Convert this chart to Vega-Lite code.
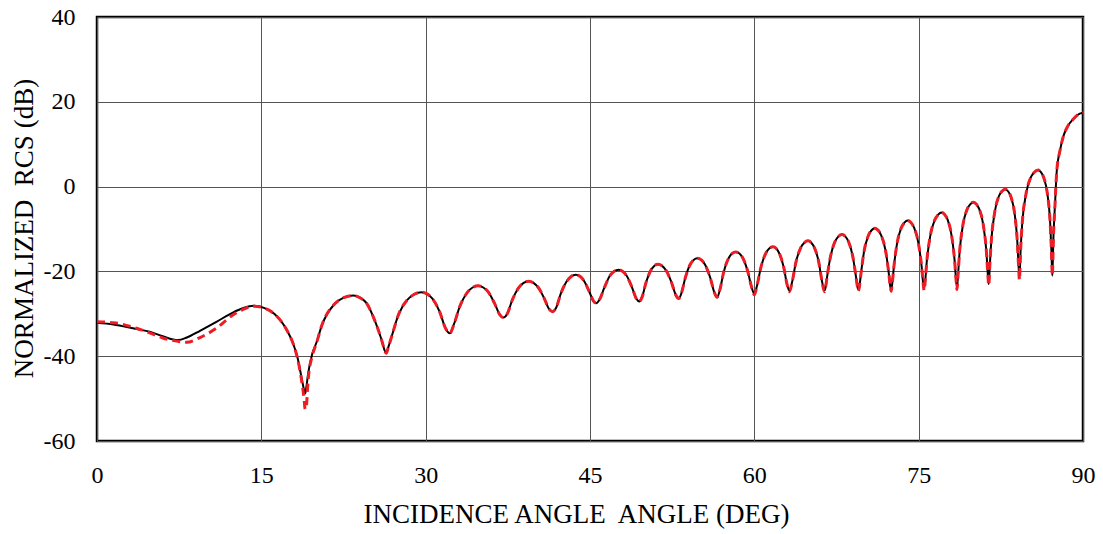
{
  "$schema": "https://vega.github.io/schema/vega-lite/v6.json",
  "width": 986,
  "height": 424,
  "autosize": {"type": "none"},
  "padding": {"left": 97, "top": 17, "right": 20, "bottom": 93},
  "background": "white",
  "config": {
    "view": {"stroke": "black", "strokeWidth": 2.5},
    "font": "Liberation Serif",
    "style": {
      "guide-label": {"font": "Liberation Serif", "fontSize": 24, "fill": "black"},
      "guide-title": {"font": "Liberation Serif", "fill": "black"}
    },
    "axis": {
      "labelFont": "Liberation Serif",
      "titleFont": "Liberation Serif",
      "labelFontSize": 24,
      "titleFontSize": 27,
      "titleFontWeight": "normal",
      "labelColor": "black",
      "titleColor": "black",
      "grid": true,
      "gridColor": "#555555",
      "gridWidth": 1,
      "gridOpacity": 1,
      "domain": false,
      "ticks": false,
      "tickSize": 0
    }
  },
  "data": {
    "values": [
      {"a": 0, "k": -32.1, "r": -31.9},
      {"a": 1.5, "k": -32.5, "r": -32.1},
      {"a": 3.6, "k": -33.6, "r": -33.4},
      {"a": 4.8, "k": -34.2, "r": -34.5},
      {"a": 6.0, "k": -35.3, "r": -35.7},
      {"a": 7.4, "k": -36.2, "r": -36.5},
      {"a": 8.2, "k": -35.6, "r": -36.7},
      {"a": 9.4, "k": -34.0, "r": -35.6},
      {"a": 10.9, "k": -31.9, "r": -33.4},
      {"a": 12.4, "k": -29.7, "r": -30.3},
      {"a": 13.3, "k": -28.7, "r": -29.0},
      {"a": 14.3, "k": -28.1, "r": -28.2},
      {"a": 15.24, "k": -28.6, "r": -28.6},
      {"a": 16.18, "k": -30.0, "r": -30.0},
      {"a": 17.36, "k": -34.0, "r": -34.0},
      {"a": 17.9, "k": -37.0, "r": -37.0},
      {"a": 18.3, "k": -40.3, "r": -40.5},
      {"a": 18.72, "k": -45.7, "r": -46.5},
      {"a": 18.9, "k": -48.0, "r": -50.0},
      {"a": 19.0, "k": -48.8, "r": -52.5},
      {"a": 19.1, "k": -47.5, "r": -52.0},
      {"a": 19.26, "k": -44.3, "r": -46.0},
      {"a": 19.66, "k": -39.3, "r": -39.8},
      {"a": 20.0, "k": -37.0, "r": -37.2},
      {"a": 20.54, "k": -32.6, "r": -32.6},
      {"a": 21.64, "k": -27.8, "r": -27.8},
      {"a": 22.52, "k": -26.2, "r": -26.2},
      {"a": 23.4, "k": -25.7, "r": -25.7},
      {"a": 24.0, "k": -26.2, "r": -26.2},
      {"a": 24.6, "k": -27.5, "r": -27.5},
      {"a": 25.2, "k": -30.6, "r": -30.6},
      {"a": 25.7, "k": -34.0, "r": -34.0},
      {"a": 26.05, "k": -36.8, "r": -36.8},
      {"a": 26.25, "k": -38.6, "r": -38.6},
      {"a": 26.4, "k": -39.3, "r": -39.3},
      {"a": 26.6, "k": -37.8, "r": -37.8},
      {"a": 26.88, "k": -35.5, "r": -35.5},
      {"a": 27.52, "k": -30.2, "r": -30.2},
      {"a": 28.32, "k": -26.7, "r": -26.7},
      {"a": 28.96, "k": -25.4, "r": -25.4},
      {"a": 29.6, "k": -24.9, "r": -24.9},
      {"a": 30.12, "k": -25.3, "r": -25.3},
      {"a": 30.64, "k": -26.5, "r": -26.5},
      {"a": 31.29, "k": -29.6, "r": -29.6},
      {"a": 31.81, "k": -33.4, "r": -33.4},
      {"a": 32.2, "k": -34.6, "r": -34.6},
      {"a": 32.59, "k": -32.4, "r": -32.4},
      {"a": 33.11, "k": -28.3, "r": -28.3},
      {"a": 33.76, "k": -25.1, "r": -25.1},
      {"a": 34.28, "k": -23.8, "r": -23.8},
      {"a": 34.8, "k": -23.4, "r": -23.4},
      {"a": 35.26, "k": -23.8, "r": -23.8},
      {"a": 35.72, "k": -24.9, "r": -24.9},
      {"a": 36.3, "k": -27.6, "r": -27.6},
      {"a": 36.76, "k": -30.2, "r": -30.2},
      {"a": 37.1, "k": -30.9, "r": -30.9},
      {"a": 37.45, "k": -30.0, "r": -30.0},
      {"a": 37.91, "k": -26.7, "r": -26.7},
      {"a": 38.48, "k": -23.9, "r": -23.9},
      {"a": 38.94, "k": -22.7, "r": -22.7},
      {"a": 39.4, "k": -22.3, "r": -22.3},
      {"a": 39.84, "k": -22.7, "r": -22.7},
      {"a": 40.28, "k": -23.8, "r": -23.8},
      {"a": 40.83, "k": -26.4, "r": -26.4},
      {"a": 41.27, "k": -28.9, "r": -28.9},
      {"a": 41.6, "k": -29.5, "r": -29.5},
      {"a": 41.92, "k": -28.5, "r": -28.5},
      {"a": 42.34, "k": -25.2, "r": -25.2},
      {"a": 42.86, "k": -22.4, "r": -22.4},
      {"a": 43.28, "k": -21.2, "r": -21.2},
      {"a": 43.7, "k": -20.8, "r": -20.8},
      {"a": 44.08, "k": -21.15, "r": -21.15},
      {"a": 44.46, "k": -22.25, "r": -22.25},
      {"a": 44.94, "k": -24.8, "r": -24.8},
      {"a": 45.32, "k": -27.0, "r": -27.0},
      {"a": 45.6, "k": -27.5, "r": -27.5},
      {"a": 45.9, "k": -26.5, "r": -26.5},
      {"a": 46.3, "k": -23.9, "r": -23.9},
      {"a": 46.8, "k": -21.1, "r": -21.1},
      {"a": 47.2, "k": -20.0, "r": -20.0},
      {"a": 47.6, "k": -19.6, "r": -19.6},
      {"a": 47.98, "k": -20.0, "r": -20.0},
      {"a": 48.36, "k": -21.1, "r": -21.1},
      {"a": 48.84, "k": -23.8, "r": -23.8},
      {"a": 49.22, "k": -26.4, "r": -26.4},
      {"a": 49.5, "k": -27.1, "r": -27.1},
      {"a": 49.76, "k": -26.0, "r": -26.0},
      {"a": 50.1, "k": -22.75, "r": -22.75},
      {"a": 50.52, "k": -19.9, "r": -19.9},
      {"a": 50.86, "k": -18.7, "r": -18.7},
      {"a": 51.2, "k": -18.3, "r": -18.3},
      {"a": 51.58, "k": -18.7, "r": -18.7},
      {"a": 51.96, "k": -19.85, "r": -19.85},
      {"a": 52.44, "k": -22.6, "r": -22.6},
      {"a": 52.82, "k": -25.5, "r": -25.5},
      {"a": 53.1, "k": -26.4, "r": -26.4},
      {"a": 53.36, "k": -25.0, "r": -25.0},
      {"a": 53.7, "k": -21.5, "r": -21.5},
      {"a": 54.12, "k": -18.5, "r": -18.5},
      {"a": 54.46, "k": -17.3, "r": -17.3},
      {"a": 54.8, "k": -16.9, "r": -16.9},
      {"a": 55.16, "k": -17.3, "r": -17.3},
      {"a": 55.52, "k": -18.5, "r": -18.5},
      {"a": 55.97, "k": -21.45, "r": -21.45},
      {"a": 56.33, "k": -24.8, "r": -24.8},
      {"a": 56.6, "k": -26.1, "r": -26.1},
      {"a": 56.86, "k": -24.3, "r": -24.3},
      {"a": 57.2, "k": -20.2, "r": -20.2},
      {"a": 57.62, "k": -17.05, "r": -17.05},
      {"a": 57.96, "k": -15.8, "r": -15.8},
      {"a": 58.3, "k": -15.4, "r": -15.4},
      {"a": 58.64, "k": -15.8, "r": -15.8},
      {"a": 58.98, "k": -17.0, "r": -17.0},
      {"a": 59.41, "k": -20.1, "r": -20.1},
      {"a": 59.75, "k": -23.7, "r": -23.7},
      {"a": 60.0, "k": -25.3, "r": -25.5},
      {"a": 60.26, "k": -23.2, "r": -23.2},
      {"a": 60.6, "k": -19.05, "r": -19.05},
      {"a": 61.02, "k": -15.85, "r": -15.85},
      {"a": 61.36, "k": -14.6, "r": -14.6},
      {"a": 61.7, "k": -14.2, "r": -14.2},
      {"a": 62.0, "k": -14.6, "r": -14.6},
      {"a": 62.3, "k": -15.85, "r": -15.85},
      {"a": 62.68, "k": -19.0, "r": -19.0},
      {"a": 62.98, "k": -23.0, "r": -23.0},
      {"a": 63.2, "k": -24.6, "r": -24.8},
      {"a": 63.46, "k": -22.4, "r": -22.4},
      {"a": 63.8, "k": -17.8, "r": -17.8},
      {"a": 64.22, "k": -14.5, "r": -14.5},
      {"a": 64.56, "k": -13.25, "r": -13.25},
      {"a": 64.9, "k": -12.8, "r": -12.8},
      {"a": 65.2, "k": -13.25, "r": -13.25},
      {"a": 65.5, "k": -14.5, "r": -14.5},
      {"a": 65.88, "k": -17.8, "r": -17.8},
      {"a": 66.18, "k": -22.4, "r": -22.4},
      {"a": 66.4, "k": -24.5, "r": -24.8},
      {"a": 66.5, "k": -23.8, "r": -23.8},
      {"a": 66.64, "k": -21.3, "r": -21.3},
      {"a": 66.96, "k": -16.4, "r": -16.4},
      {"a": 67.36, "k": -13.0, "r": -13.0},
      {"a": 67.68, "k": -11.75, "r": -11.75},
      {"a": 68.0, "k": -11.3, "r": -11.3},
      {"a": 68.3, "k": -11.75, "r": -11.75},
      {"a": 68.6, "k": -13.0, "r": -13.0},
      {"a": 68.98, "k": -16.4, "r": -16.4},
      {"a": 69.28, "k": -21.3, "r": -21.3},
      {"a": 69.41, "k": -23.6, "r": -23.6},
      {"a": 69.5, "k": -24.3, "r": -24.6},
      {"a": 69.59, "k": -23.6, "r": -23.6},
      {"a": 69.73, "k": -20.6, "r": -20.6},
      {"a": 70.03, "k": -15.1, "r": -15.1},
      {"a": 70.4, "k": -11.6, "r": -11.6},
      {"a": 70.7, "k": -10.3, "r": -10.3},
      {"a": 71.0, "k": -9.8, "r": -9.8},
      {"a": 71.3, "k": -10.3, "r": -10.3},
      {"a": 71.6, "k": -11.6, "r": -11.6},
      {"a": 71.98, "k": -15.1, "r": -15.1},
      {"a": 72.28, "k": -20.6, "r": -20.6},
      {"a": 72.41, "k": -23.6, "r": -23.6},
      {"a": 72.5, "k": -24.4, "r": -24.7},
      {"a": 72.59, "k": -22.8, "r": -22.8},
      {"a": 72.73, "k": -19.1, "r": -19.1},
      {"a": 73.03, "k": -13.4, "r": -13.4},
      {"a": 73.4, "k": -9.8, "r": -9.8},
      {"a": 73.7, "k": -8.5, "r": -8.5},
      {"a": 74.0, "k": -8.0, "r": -8.0},
      {"a": 74.3, "k": -8.5, "r": -8.5},
      {"a": 74.6, "k": -9.8, "r": -9.8},
      {"a": 74.98, "k": -13.4, "r": -13.4},
      {"a": 75.28, "k": -19.1, "r": -19.1},
      {"a": 75.41, "k": -22.8, "r": -22.8},
      {"a": 75.5, "k": -24.0, "r": -24.5},
      {"a": 75.6, "k": -22.2, "r": -22.2},
      {"a": 75.74, "k": -17.7, "r": -17.7},
      {"a": 76.06, "k": -11.6, "r": -11.6},
      {"a": 76.46, "k": -7.9, "r": -7.9},
      {"a": 76.78, "k": -6.6, "r": -6.6},
      {"a": 77.1, "k": -6.1, "r": -6.1},
      {"a": 77.38, "k": -6.6, "r": -6.6},
      {"a": 77.66, "k": -7.9, "r": -7.9},
      {"a": 78.01, "k": -11.6, "r": -11.6},
      {"a": 78.29, "k": -17.7, "r": -17.7},
      {"a": 78.42, "k": -22.2, "r": -22.2},
      {"a": 78.5, "k": -23.8, "r": -24.3},
      {"a": 78.59, "k": -21.0, "r": -21.0},
      {"a": 78.73, "k": -15.6, "r": -15.6},
      {"a": 79.03, "k": -9.2, "r": -9.2},
      {"a": 79.4, "k": -5.5, "r": -5.5},
      {"a": 79.7, "k": -4.2, "r": -4.2},
      {"a": 80.0, "k": -3.7, "r": -3.7},
      {"a": 80.28, "k": -4.2, "r": -4.2},
      {"a": 80.56, "k": -5.5, "r": -5.5},
      {"a": 80.91, "k": -9.2, "r": -9.2},
      {"a": 81.19, "k": -15.6, "r": -15.6},
      {"a": 81.32, "k": -21.0, "r": -21.0},
      {"a": 81.4, "k": -23.0, "r": -23.3},
      {"a": 81.49, "k": -18.8, "r": -18.8},
      {"a": 81.63, "k": -12.8, "r": -12.8},
      {"a": 81.93, "k": -6.2, "r": -6.2},
      {"a": 82.3, "k": -2.4, "r": -2.4},
      {"a": 82.6, "k": -1.1, "r": -1.1},
      {"a": 82.9, "k": -0.6, "r": -0.6},
      {"a": 83.16, "k": -1.1, "r": -1.1},
      {"a": 83.42, "k": -2.4, "r": -2.4},
      {"a": 83.75, "k": -6.2, "r": -6.2},
      {"a": 84.0, "k": -12.8, "r": -12.8},
      {"a": 84.12, "k": -18.8, "r": -18.8},
      {"a": 84.2, "k": -21.6, "r": -22.0},
      {"a": 84.3, "k": -15.3, "r": -15.3},
      {"a": 84.46, "k": -8.4, "r": -8.4},
      {"a": 84.8, "k": -1.7, "r": -1.7},
      {"a": 85.22, "k": 2.1, "r": 2.1},
      {"a": 85.56, "k": 3.4, "r": 3.4},
      {"a": 85.9, "k": 3.9, "r": 3.9},
      {"a": 86.16, "k": 3.4, "r": 3.4},
      {"a": 86.42, "k": 2.1, "r": 2.1},
      {"a": 86.75, "k": -1.7, "r": -1.7},
      {"a": 87.0, "k": -8.4, "r": -8.4},
      {"a": 87.12, "k": -15.3, "r": -15.3},
      {"a": 87.2, "k": -21.0, "r": -21.0},
      {"a": 87.3, "k": -12.0, "r": -12.0},
      {"a": 87.45, "k": -4.0, "r": -4.0},
      {"a": 87.6, "k": 3.5, "r": 3.5},
      {"a": 87.9, "k": 8.5, "r": 8.5},
      {"a": 88.2, "k": 11.8, "r": 11.8},
      {"a": 88.6, "k": 14.2, "r": 14.2},
      {"a": 89.1, "k": 15.9, "r": 15.9},
      {"a": 89.5, "k": 16.9, "r": 16.9},
      {"a": 90.0, "k": 17.4, "r": 17.4}
    ]
  },
  "encoding": {
    "x": {
      "field": "a",
      "type": "quantitative",
      "scale": {"domain": [0, 90], "nice": false, "zero": false},
      "axis": {
        "values": [0, 15, 30, 45, 60, 75, 90],
        "labelExpr": "'' + datum.value",
        "labelFont": "Liberation Serif",
        "labelFontSize": 24,
        "title": "INCIDENCE ANGLE\u00a0 ANGLE (DEG)",
        "titleFont": "Liberation Serif",
        "labelPadding": 22,
        "titleX": 479,
        "titleY": 73,
        "titleAlign": "center",
        "titleBaseline": "middle",
        "labelFlush": false,
        "labelOverlap": false
      }
    }
  },
  "layer": [
    {
      "mark": {"type": "line", "color": "black", "strokeWidth": 2, "interpolate": "monotone", "clip": true},
      "encoding": {
        "y": {
          "field": "k",
          "type": "quantitative",
          "scale": {"domain": [-60, 40], "nice": false, "zero": false},
          "axis": {
            "values": [-60, -40, -20, 0, 20, 40],
            "labelExpr": "'' + datum.value",
            "labelFont": "Liberation Serif",
            "labelFontSize": 24,
            "title": "NORMALIZED\u00a0 RCS (dB)",
            "titleFont": "Liberation Serif",
            "titleFontSize": 27,
            "labelPadding": 22,
            "titleX": -73,
            "titleY": 211,
            "titleAngle": -90,
            "titleAlign": "center",
            "titleBaseline": "middle",
            "labelFlush": false,
            "labelOverlap": false
          }
        }
      }
    },
    {
      "mark": {"type": "line", "color": "#ee1c25", "strokeWidth": 3, "strokeDash": [8, 5], "interpolate": "monotone", "clip": true},
      "encoding": {
        "y": {"field": "r", "type": "quantitative"}
      }
    }
  ]
}
